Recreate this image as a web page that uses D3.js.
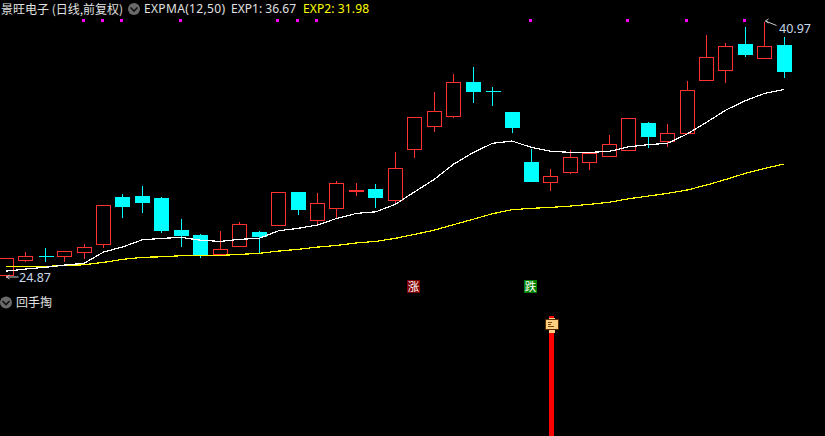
<!DOCTYPE html>
<html><head><meta charset="utf-8">
<script src="https://cdnjs.cloudflare.com/ajax/libs/d3/7.8.5/d3.min.js"></script>
<style>html,body{margin:0;padding:0;background:#000;overflow:hidden}svg{display:block}text{font-family:"Noto Sans","Noto Sans CJK SC",sans-serif}text.cjk{font-family:"Noto Sans CJK SC","Noto Sans",sans-serif}</style>
</head><body><div id="c"></div>
<script>
const title="景旺电子 (日线,前复权)";
const indicator="EXPMA(12,50)";
const exp1Label="EXP1: 36.67";
const exp2Label="EXP2: 31.98";
const highLabel="40.97", lowLabel="24.87", subTitle="回手掏", upTag="涨", downTag="跌";
const opens=[24.97,25.95,26.20,26.21,26.46,26.96,29.90,29.96,29.84,27.82,27.51,26.33,26.84,27.70,28.16,30.21,28.47,29.23,30.31,30.40,29.73,32.94,34.38,35.01,37.13,36.55,35.25,32.10,30.86,31.49,32.12,32.50,32.87,34.55,33.44,33.94,37.28,37.91,39.52,38.66,39.46];
const closes=[26.04,26.17,26.19,26.48,26.73,29.38,29.33,29.58,27.82,27.51,26.31,26.61,28.18,27.45,30.19,29.14,29.50,30.76,30.32,29.90,31.70,34.91,35.29,37.11,36.57,36.54,34.30,30.91,31.20,32.40,32.69,33.21,34.85,33.74,33.91,36.61,38.69,39.38,38.89,39.38,37.82];
const highs=[26.12,26.50,26.73,26.48,26.99,29.38,30.15,30.65,29.96,28.58,27.63,27.82,28.39,27.82,30.19,30.21,30.21,30.95,30.84,30.78,32.79,34.91,36.57,37.70,38.14,36.88,35.31,32.98,31.70,32.90,32.69,33.86,34.93,34.66,34.55,37.26,40.15,39.65,40.65,40.97,40.03];
const lows=[24.87,25.89,25.87,25.87,26.06,26.75,28.64,28.96,27.70,26.82,26.12,26.33,26.84,26.44,28.16,28.83,28.24,28.62,30.02,29.27,29.50,32.41,34.05,34.93,35.87,35.69,33.99,30.91,30.34,31.41,31.66,32.50,32.87,33.04,33.13,33.94,37.28,37.15,38.77,38.66,37.45];
const exp1=[25.24,25.37,25.48,25.62,25.73,26.44,26.77,27.21,27.30,27.36,27.18,27.11,27.24,27.30,27.78,27.93,28.14,28.56,28.87,28.97,29.44,30.23,31.01,31.97,32.69,33.28,33.42,33.02,32.77,32.71,32.71,32.77,33.06,33.19,33.28,33.86,34.60,35.37,35.96,36.42,36.67];
const exp2=[25.54,25.54,25.54,25.58,25.64,25.79,25.98,26.11,26.14,26.21,26.22,26.23,26.29,26.36,26.50,26.61,26.75,26.86,27.01,27.11,27.30,27.55,27.82,28.16,28.50,28.85,29.10,29.19,29.25,29.33,29.44,29.57,29.79,29.96,30.13,30.34,30.65,31.01,31.39,31.70,31.98];
const signalBars=[4,5,6,9,14,15,16,27,32,35,38];
const upTagBar=21, downTagBar=27, stickBar=28;

const W=825,H=436;
const RED="#ff3232",CYAN="#00ffff",YEL="#ffff00",MAG="#ff00ff",TXT="#e0e0e0",LBL="#c8d8e8";
const svg=d3.select("#c").append("svg").attr("width",W).attr("height",H);
svg.append("rect").attr("width",W).attr("height",H).attr("fill","#000");
const x=d3.scaleLinear().domain([0,40]).range([6.3,784.3]);
const y=d3.scaleLinear().domain([24.87,40.97]).range([277,21]);
const px=v=>Math.floor(x(v))+0.5, py=v=>Math.round(y(v))+0.5;
const bars=d3.range(opens.length).map(i=>({i,o:opens[i],c:closes[i],h:highs[i],l:lows[i],up:closes[i]>=opens[i]}));
const g=svg.append("g").attr("shape-rendering","crispEdges");
// wicks
g.selectAll("line.w").data(bars).join("line").attr("class","w")
 .attr("x1",d=>px(d.i)).attr("x2",d=>px(d.i)).attr("y1",d=>py(d.h)).attr("y2",d=>py(d.l))
 .attr("stroke",d=>d.up?RED:CYAN);
// bodies
const HALF=7;
const bodyTop=d=>py(Math.max(d.o,d.c)), bodyBot=d=>py(Math.min(d.o,d.c));
g.selectAll("rect.b").data(bars.filter(d=>bodyBot(d)>bodyTop(d))).join("rect").attr("class","b")
 .attr("x",d=>px(d.i)-HALF).attr("width",HALF*2)
 .attr("y",bodyTop).attr("height",d=>bodyBot(d)-bodyTop(d))
 .attr("fill",d=>d.up?"#000":CYAN).attr("stroke",d=>d.up?RED:CYAN);
// doji bars are a plain horizontal stroke
g.selectAll("line.d").data(bars.filter(d=>bodyBot(d)<=bodyTop(d))).join("line").attr("class","d")
 .attr("x1",d=>px(d.i)-HALF).attr("x2",d=>px(d.i)+HALF+1).attr("y1",bodyTop).attr("y2",bodyTop)
 .attr("stroke",d=>d.up?RED:CYAN);
// lines
const ln=d3.line().x((d,i)=>x(i)).y(d=>y(d));
svg.append("path").attr("d",ln(exp2)).attr("fill","none").attr("stroke",YEL).attr("stroke-width",1.2).attr("shape-rendering","crispEdges");
svg.append("path").attr("d",ln(exp1)).attr("fill","none").attr("stroke","#fff").attr("stroke-width",1.2).attr("shape-rendering","crispEdges");
// signal marks
g.selectAll("rect.s").data(signalBars).join("rect").attr("class","s")
 .attr("x",d=>Math.floor(x(d))-2).attr("y",19).attr("width",3).attr("height",3).attr("fill",MAG);
// header
const t=(s,xp,yp,size,fill,anchor,cls)=>svg.append("text").attr("class",cls||null).attr("x",xp).attr("y",yp).attr("font-size",size).attr("fill",fill).attr("text-anchor",anchor||"start").text(s);
t(title,1,14,12,TXT,"start","cjk");
t(indicator,144,13,12,TXT).attr("textLength",81);
t(exp1Label,231,13,12,TXT).attr("textLength",65);
t(exp2Label,303,13,12,YEL).attr("textLength",66);
const chevron=(cx,cy)=>{
 svg.append("circle").attr("cx",cx).attr("cy",cy).attr("r",6).attr("fill","#6a6a6a");
 svg.append("path").attr("d",`M${cx-3.5},${cy-1.5}L${cx},${cy+2}L${cx+3.5},${cy-1.5}`).attr("fill","none").attr("stroke","#111").attr("stroke-width",1.6);
};
chevron(134,9);
chevron(6,302.5);
t(subTitle,16,307,12,TXT,"start","cjk");
// high label
const hx=px(39),hy=y(highs[39]);
svg.append("path").attr("d",`M${hx+4},${hy-2}L${hx+1},${hy}L${hx+4},${hy+2}M${hx+1},${hy}L${hx+12},${hy+4.5}`).attr("fill","none").attr("stroke","#ccc");
t(highLabel,779,33,12.5,LBL);
// low label
const lx=px(0),ly=y(lows[0]);
svg.append("path").attr("d",`M${lx+3},${ly-2}L${lx},${ly}L${lx+3},${ly+2}M${lx},${ly}L${lx+12},${ly}`).attr("fill","none").attr("stroke","#ccc");
t(lowLabel,19,282,12.5,LBL);
// tags
const tag=(bar,s,bg)=>{
 const cx=Math.floor(x(bar));
 svg.append("rect").attr("x",cx-7).attr("y",280).attr("width",13).attr("height",13).attr("fill",bg).attr("shape-rendering","crispEdges");
 t(s,cx-0.5,291,11.5,"#fff","middle","cjk");
};
tag(upTagBar,upTag,"#800000");
tag(downTagBar,downTag,"#008000");
// stick and hammer
const sx=Math.round(x(stickBar));
const sk=svg.append("g").attr("shape-rendering","crispEdges");
sk.append("rect").attr("x",sx-2).attr("y",316).attr("width",5).attr("height",H-316).attr("fill","#ff0000");
sk.append("rect").attr("x",sx-2).attr("y",318).attr("width",6).attr("height",15).attr("fill","#ffcf80");
sk.append("rect").attr("x",sx-5.5).attr("y",319.5).attr("width",13).attr("height",10).attr("fill","#ffcf80").attr("stroke","#5a2a00");
sk.append("path").attr("d",`M${sx-3},322.5H${sx+1}M${sx-3},324.5H${sx}M${sx-3},326.5H${sx+3}`).attr("stroke","#7a4a10");
</script></body></html>
